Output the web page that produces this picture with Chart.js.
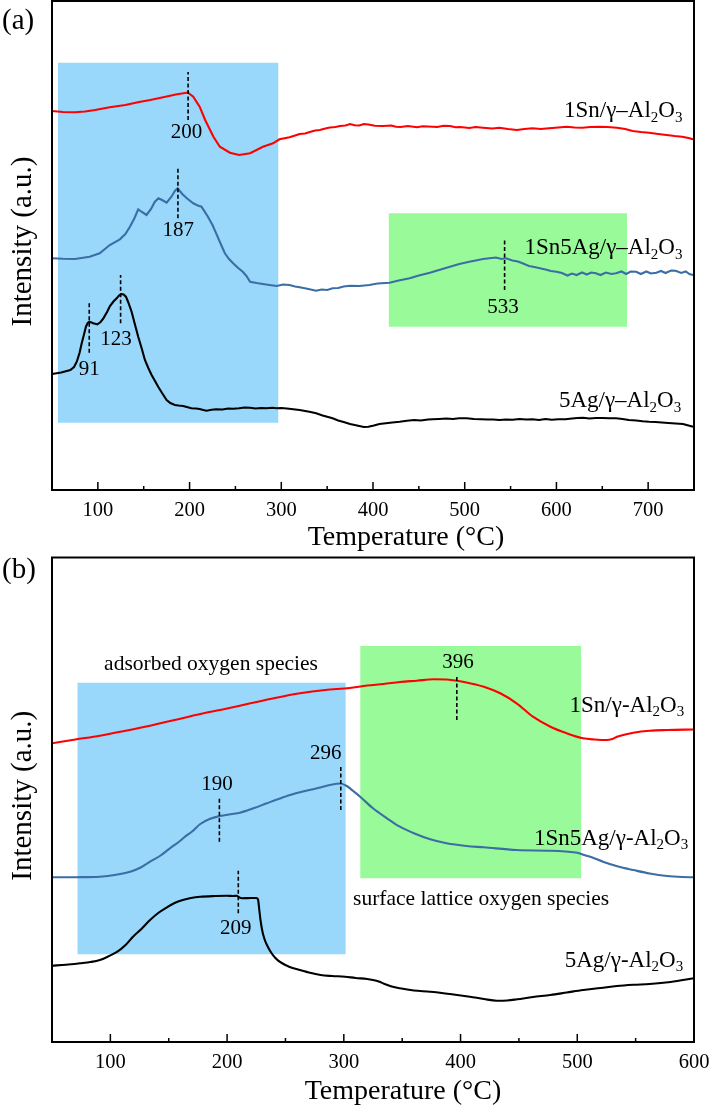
<!DOCTYPE html>
<html>
<head>
<meta charset="utf-8">
<script src="https://cdn.jsdelivr.net/npm/chart.js@4.4.1/dist/chart.umd.min.js"></script>
<style>
  html, body { margin: 0; padding: 0; background: #fff; }
  #wrap { position: relative; width: 711px; height: 1110px; }
  canvas { position: absolute; left: 0; }
  #chartA { top: 0; }
  #chartB { top: 555px; }
</style>
</head>
<body>
<div id="wrap">
  <canvas id="chartA" width="711" height="555"></canvas>
  <canvas id="chartB" width="711" height="555"></canvas>
</div>
<script>
const SERIF = "'Liberation Serif', 'Times New Roman', serif";

// panel (a): [temperature °C, intensity a.u.]
const snA = [[50,379],[62,378],[75,377.7],[86,378.5],[97,380],[113,382.7],[130,385],[145,388],[157,390],[170,392.5],[185,395.5],[198,397.5],[204,393.3],[211,383.3],[217,370],[226,353.3],[233,343.3],[244,337.3],[254,335],[266,336.7],[280,343.3],[291,346.7],[298,350.7],[309,352.7],[315,354.5],[320,356],[326,356.5],[331,358],[337,359.5],[342,360],[348,361.5],[353,362.5],[359,363],[364,364],[370,364.5],[375,366],[380,364.8],[385,364.5],[390,366],[395,365.5],[402,364.2],[411,364],[420,364.5],[425,363.2],[430,363],[438,364],[448,362.7],[454,363.8],[460,363.5],[470,363],[477,364.2],[484,364],[490,362.8],[495,363],[505,362],[512,363],[520,362.3],[530,361.5],[538,362.3],[547,361],[557,360],[565,361],[574,361.7],[583,361],[592,361.7],[602,362.5],[611,363.3],[620,362.5],[628,362.3],[637,363],[647,363.3],[656,363],[666,362.3],[675,361],[683,359],[692,358],[701,357.3],[711,356],[720,355],[729,354],[737,353.3],[744,352],[749,350.7]];
const snAgA = [[50,231.7],[62,231.2],[75,231],[91,233.3],[102,236.7],[113,245],[124,250.7],[130,256],[135,263.3],[140,272],[144,280.7],[148,278],[153,275],[158,281],[162,288],[166,291.7],[170,290],[175,287.3],[180,293],[184,299],[187,301.7],[192,296],[197,291.7],[204,286.7],[209,284.5],[213,283.3],[220,273.3],[225,265],[229,256.7],[234,246],[238.5,236.7],[243,231],[247.5,226.7],[253,222],[258,218.3],[262,214],[266,208.3],[273,207],[280,206],[287,205],[295,204],[302,205.5],[309,205],[315,203.5],[320,202.7],[327,201.5],[332,200.5],[338,199.3],[344,200.5],[350,200],[356,201.7],[362,202],[368,203.5],[375,204.3],[385,204],[396,205],[405,206.5],[418,207.3],[428,209.5],[440,211.7],[450,214.5],[462,217.3],[472,220],[484,223.3],[494,226],[505,228.3],[512,229.5],[520,231],[527,231.7],[534,232.5],[540,231],[545,231.7],[552,229.5],[558,228.5],[563,226.7],[570,224],[576,223],[582,221.7],[588,220.5],[594,219],[600,218.3],[606,217],[612,214.5],[617,216.5],[622,215],[628,217.5],[633,215.5],[638,217.5],[643,216.7],[648,215],[654,217.5],[660,216],[665,216.7],[671,218.5],[676,216],[681,218.5],[687,218.3],[692,216],[698,218.5],[703,216.5],[709,217.3],[714,219],[719,217],[725,219.5],[730,219.3],[736,217],[741,218.5],[745,216],[749,215]];
const agA = [[50,116],[60,117.5],[70,120],[74,123],[77,128.3],[80,137],[82.4,146.7],[85,156],[87,163.3],[89,167],[90.7,168.3],[93,167.5],[95,166.7],[99.4,165.7],[103,168],[106,171.7],[110,178],[113.2,184],[117,188.5],[120.5,191.7],[123,194.5],[125.9,196],[128,195.5],[130.6,193.3],[133,188],[136.8,178.3],[140,167],[144,153.3],[148,141],[151.3,130],[155,122],[158.6,115],[162,109.5],[165.8,103.3],[170,97],[175,90],[179,87],[184,85],[188,84.5],[193,84],[197,83],[202,81.7],[207,81.5],[211,81],[215,80],[218.5,79.3],[224,80.2],[229,80.7],[236,80.5],[242,81.5],[247.5,81.3],[254,81.8],[260,82.5],[266,82.3],[272,81.5],[278,82],[284,81.7],[290,82.3],[295,81.8],[300,82],[306,81.5],[313,80.7],[320,80],[326,79],[332,78],[338,76.7],[345,74.5],[351,73],[356,71.7],[362,69.5],[368,68],[375,66],[380,65],[385,64],[390,63],[395,63.3],[401,64.5],[407,66],[414,66.8],[421,67.5],[429,68.3],[437,69.3],[445,70],[452,69.5],[460,70.5],[465,70.7],[472,71],[480,71.5],[487,71],[494,71.7],[502,71.7],[510,71],[518,70.7],[525,70.5],[531,70.5],[538,70],[545,70.5],[552,70.3],[560,71],[567,70.5],[574,70.7],[581,70],[588,71],[595,70.2],[602,70.7],[610,70.7],[617,71.5],[623,72],[629,72.3],[636,71.5],[643,72],[650,72],[658,71.7],[665,71.7],[672,71],[679,70],[687,69.5],[694,68.8],[701,68.3],[708,68],[715,67.5],[722,67],[730,66.5],[738,66],[744,64.5],[749,63.3]];

// panel (b): [temperature °C, intensity a.u.]
const snB = [[50,298.7],[70,302.5],[91,306.3],[112,311],[134,316.3],[155,322],[177,328],[198,333],[220,338.7],[241,344],[262.5,348.7],[284,352],[305,354],[320,356.5],[334,358],[348,360],[362.5,361.3],[377,362.7],[388,362.5],[397,361.3],[408,358.8],[420,355.3],[434,348.7],[448,338.7],[462,325.3],[477,315.3],[491,308.7],[505,303.7],[515,302.5],[525,302],[530,303],[534,305.3],[541,307.5],[548,309.3],[562,311.3],[577,312],[600,312.5]];
const snAgB = [[50,164.7],[70,164.8],[91,165.3],[105,167.2],[117,170.3],[126,174.5],[134,180.3],[143,186.5],[151,193.7],[158,199.5],[164,205.3],[170,210.5],[177,218],[185,223],[194,226],[203,227.8],[211,229.3],[222.5,233.7],[234,238.7],[244,243],[254,247],[265,250.5],[277,253.7],[288,257],[297,258.5],[302.5,256],[308,251],[314,245.3],[325,233.7],[337,223.7],[348,215.3],[360,208.7],[374,202.7],[388,198.7],[405,196],[420,194.7],[448,192],[477,191.3],[490,190.5],[500,189.3],[506,187],[514,184],[522,180.3],[535,175.5],[548,172],[562,168.5],[577,166],[590,165],[600,164.7]];
const agB = [[50,76.3],[62,77.2],[74,78.7],[83,80],[91,82],[98,85.5],[106,90.3],[113,97],[119.4,105.3],[127,113.5],[134,122],[141,129],[148.5,134.7],[155,139],[162,142],[169,144],[177,145.3],[190,146],[200,146.2],[205,146],[208.3,146.3],[210,145],[212.5,143.8],[218,143.9],[225,144],[226.5,142.5],[227.5,133],[228.5,123],[230,112],[232,103],[235,95],[238,89],[241,84.5],[245,80.3],[250,77],[256,74],[262.5,72],[270,69.5],[280,67],[290,66],[301,65.3],[310,64],[320,63],[325,62],[330,60.5],[335,58],[341,55.5],[348,53.7],[360,51.5],[374,50.3],[391,48],[408,45.3],[420,43],[431,41.3],[440,41.5],[448.5,42.7],[462,45],[477,47],[491,49.5],[505,52],[520,54],[534,56],[548,57.2],[562,58],[580,60],[600,63.7]];

const RED = '#ff0000', BLUE = '#3a6ea5', BLACK = '#000000';
const SKY = '#99d7fb', MINT = '#99fa99';

// annotation layout (°C / a.u.)
const panelA = {
  canvas: 'chartA', letter: '(a)', letterY: 21, top: 1, axisH: 65, xMin: 50, xMax: 750, yMax: 489,
  titleDx: 33, titleBase: 545, smooth: false,
  series: [[snA, RED], [snAgA, BLUE], [agA, BLACK]],
  boxes: [[56.5, 297, 67.3, 427.3, SKY], [417, 677, 163.3, 276.7, MINT]],
  peaks: [
    { text: '200', at: 198.4, from: 370, to: 418, lx: 196.7, ly: 357.2 },
    { text: '187', at: 187.3, from: 271.7, to: 321.7, lx: 187.6, ly: 259.5 },
    { text: '91', at: 90.6, from: 137.3, to: 186.7, lx: 90.7, ly: 120.8 },
    { text: '123', at: 124.8, from: 166.7, to: 215, lx: 119.7, ly: 150.8 },
    { text: '533', at: 543.5, from: 200, to: 250, lx: 541.7, ly: 182.5 }
  ],
  names: [
    { text: '1Sn/γ–Al_2O_3', x: 737.4, y: 372.7 },
    { text: '1Sn5Ag/γ–Al_2O_3', x: 737.4, y: 235.7 },
    { text: '5Ag/γ–Al_2O_3', x: 736, y: 82.7 }
  ],
  notes: []
};
const panelB = {
  canvas: 'chartB', letter: '(b)', letterY: 15.5, top: 2.5, axisH: 68, xMin: 50, xMax: 600, yMax: 484.5,
  titleDx: 30, titleBase: 544, smooth: true,
  series: [[snB, RED], [snAgB, BLUE], [agB, BLACK]],
  boxes: [[71.7, 301.7, 87.7, 359.3, SKY], [314, 503.3, 163.7, 396, MINT]],
  peaks: [
    { text: '396', at: 396.8, from: 322, to: 365.3, lx: 397.9, ly: 380 },
    { text: '190', at: 193.4, from: 200.3, to: 244.7, lx: 191.4, ly: 257.3 },
    { text: '296', at: 297.4, from: 232, to: 275.3, lx: 284.6, ly: 289 },
    { text: '209', at: 209.6, from: 128.7, to: 171.3, lx: 207.5, ly: 113.2 }
  ],
  names: [
    { text: '1Sn/γ-Al_2O_3', x: 591.6, y: 330.3 },
    { text: '1Sn5Ag/γ-Al_2O_3', x: 595, y: 197.5 },
    { text: '5Ag/γ-Al_2O_3', x: 590.7, y: 75.3 }
  ],
  notes: [
    { text: 'adsorbed oxygen species', x: 186.2, y: 372 },
    { text: 'surface lattice oxygen species', x: 417.6, y: 137 }
  ]
};

// text with _n subscripts
function drawRich(ctx, text, x, y, size, align) {
  const parts = text.split(/_(\d)/);
  const fonts = parts.map((p, i) => (i % 2 ? Math.round(size * 0.64) : size) + 'px ' + SERIF);
  const widths = parts.map((p, i) => { ctx.font = fonts[i]; return ctx.measureText(p).width; });
  const total = widths.reduce((s, w) => s + w, 0);
  let cx = align === 'right' ? x - total : align === 'center' ? x - total / 2 : x;
  ctx.textAlign = 'left';
  ctx.textBaseline = 'alphabetic';
  parts.forEach((p, i) => {
    ctx.font = fonts[i];
    ctx.fillText(p, cx, i % 2 ? y + size * 0.2 : y);
    cx += widths[i];
  });
}

function makePanel(cfg) {
  const datasets = [];
  cfg.boxes.forEach(([x0, x1, y0, y1, c]) => datasets.push({
    data: [{ x: x0, y: y1 }, { x: x1, y: y1 }],
    fill: { value: y0 }, backgroundColor: c, borderWidth: 0, pointRadius: 0, order: 5
  }));
  cfg.series.forEach(([pts, c]) => datasets.push({
    data: pts.map(([x, y]) => ({ x, y })),
    borderColor: c, borderWidth: 2.1, pointRadius: 0, fill: false, order: 1,
    tension: 0, cubicInterpolationMode: cfg.smooth ? 'monotone' : 'default'
  }));
  cfg.peaks.forEach(p => datasets.push({
    data: [{ x: p.at, y: p.from }, { x: p.at, y: p.to }],
    borderColor: '#000', borderWidth: 1.6, borderDash: [4, 2.5], pointRadius: 0, fill: false, order: 0
  }));

  const deco = {
    id: 'deco',
    afterDraw(chart) {
      const { ctx, chartArea: a, scales: { x, y } } = chart;
      ctx.save();
      ctx.strokeStyle = '#000';
      ctx.lineWidth = 1.5;
      x.ticks.forEach(t => {
        const px = x.getPixelForValue(t.value);
        const len = t.value % 100 === 0 ? 8 : 4;
        ctx.beginPath(); ctx.moveTo(px, a.bottom); ctx.lineTo(px, a.bottom - len); ctx.stroke();
      });
      ctx.lineWidth = 2;
      ctx.strokeRect(a.left, a.top, a.right - a.left, a.bottom - a.top);

      ctx.fillStyle = '#000';
      ctx.font = '29px ' + SERIF;
      ctx.textAlign = 'left'; ctx.textBaseline = 'middle';
      ctx.fillText(cfg.letter, 2, cfg.letterY);

      ctx.font = '28px ' + SERIF;
      ctx.textAlign = 'center'; ctx.textBaseline = 'alphabetic';
      ctx.fillText('Temperature (°C)', (a.left + a.right) / 2 + cfg.titleDx, cfg.titleBase);
      ctx.save();
      ctx.font = '29px ' + SERIF;
      ctx.translate(31, (a.top + a.bottom) / 2 - 4);
      ctx.rotate(-Math.PI / 2);
      ctx.fillText('Intensity (a.u.)', 0, 0);
      ctx.restore();

      ctx.font = '21px ' + SERIF;
      ctx.textAlign = 'center'; ctx.textBaseline = 'middle';
      cfg.peaks.forEach(p => ctx.fillText(p.text, x.getPixelForValue(p.lx), y.getPixelForValue(p.ly)));

      cfg.names.forEach(n => drawRich(ctx, n.text, x.getPixelForValue(n.x), y.getPixelForValue(n.y), 23, 'right'));
      cfg.notes.forEach(n => drawRich(ctx, n.text, x.getPixelForValue(n.x), y.getPixelForValue(n.y), 21.5, 'center'));
      ctx.restore();
    }
  };

  return new Chart(document.getElementById(cfg.canvas), {
    type: 'line',
    data: { datasets },
    options: {
      responsive: false,
      animation: false,
      events: [],
      layout: { padding: { left: 52, right: 17, top: cfg.top, bottom: 0 } },
      plugins: { legend: { display: false }, tooltip: { enabled: false } },
      scales: {
        x: {
          type: 'linear', min: cfg.xMin, max: cfg.xMax,
          grid: { display: false, drawTicks: false },
          border: { display: false },
          ticks: {
            stepSize: 50, autoSkip: false, maxRotation: 0, padding: 8, color: '#000',
            font: { family: SERIF, size: 20.5 },
            callback: v => (v % 100 === 0 ? String(v) : '')
          },
          afterFit: s => { s.height = cfg.axisH; s.paddingLeft = 0; s.paddingRight = 0; }
        },
        y: { type: 'linear', display: false, min: 0, max: cfg.yMax }
      }
    },
    plugins: [deco]
  });
}

makePanel(panelA);
makePanel(panelB);
</script>
</body>
</html>
